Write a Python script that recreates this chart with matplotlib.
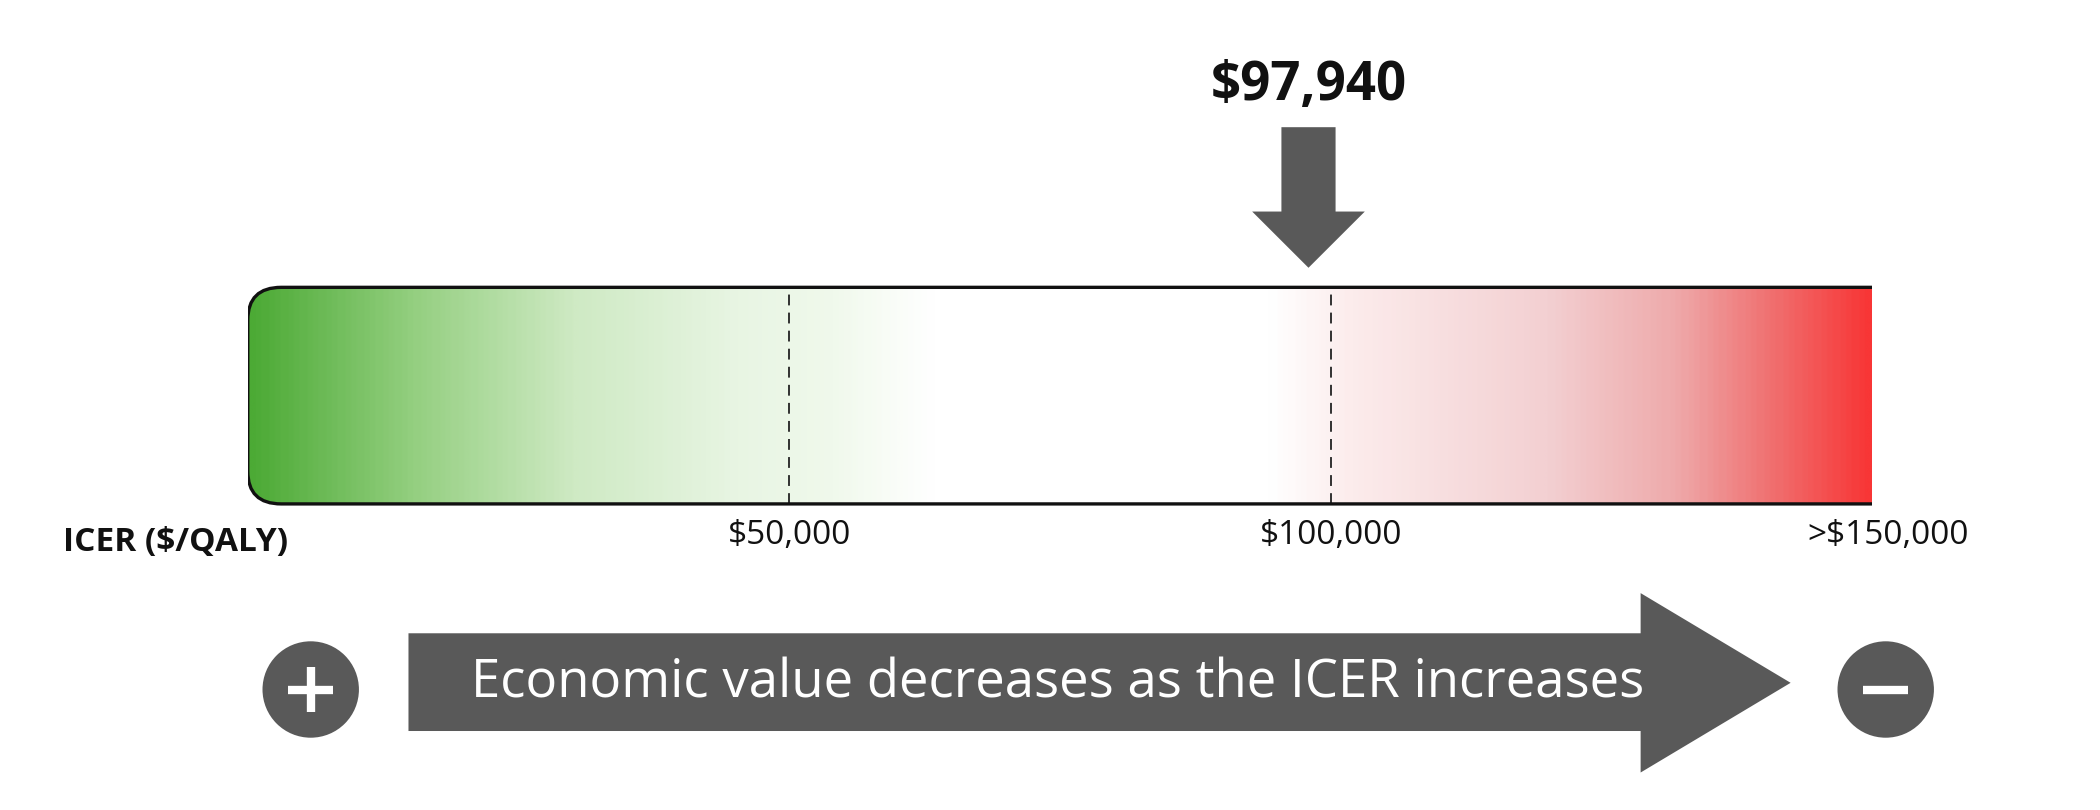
import matplotlib.pyplot as plt
import matplotlib.transforms as mtransforms
from matplotlib.colors import LinearSegmentedColormap
from matplotlib.patches import FancyBboxPatch, Polygon, Circle
import numpy as np

plt.rcParams['font.family'] = ['Open Sans', 'DejaVu Sans']

# data
icer_value = 97940
tick_values = [50000, 100000, 150000]
tick_labels = ["$50,000", "$100,000", ">$150,000"]
thresholds = [50000, 100000]
axis_label = "ICER ($/QALY)"
value_label = "$97,940"
arrow_text = "Economic value decreases as the ICER increases"
x_max = 150000

grey = "#595959"

fig = plt.figure(figsize=(21, 8.1), dpi=100)
# layout axes in reference pixel units (1568 x 605)
ax = fig.add_axes([0, 0, 1, 1])
ax.set_xlim(0, 1568)
ax.set_ylim(605, 0)
ax.axis("off")

# bar axes in ICER units
W, H = 1568, 605
bx0, bx1, by0, by1 = 185, 1398, 213, 378
axb = fig.add_axes([bx0 / W, 1 - by1 / H, (bx1 - bx0) / W, (by1 - by0) / H])
axb.set_xlim(0, x_max)
axb.set_ylim(-0.01, 1.01)
axb.axis("off")

cmap = LinearSegmentedColormap.from_list("icer", [
    (0.00, "#4caa35"), (0.10, "#94cf80"), (0.20, "#cfeac4"),
    (0.30, "#e8f5e3"), (0.36, "#f0f9ec"), (0.42, "#ffffff"),
    (0.63, "#ffffff"), (0.68, "#fcecec"), (0.80, "#f3d0d2"),
    (0.88, "#eeaaab"), (0.94, "#f07070"), (1.00, "#f83636")])
grad = np.linspace(0, 1, 600).reshape(1, -1)
img = axb.imshow(grad, cmap=cmap, aspect="auto", extent=[0, x_max, 0, 1], zorder=1)

rx = 25 / (bx1 - bx0) * x_max
ry = 25 / (by1 - by0)
shape = FancyBboxPatch((0, 0), x_max * 1.1, 1,
                       boxstyle=f"round,pad=0,rounding_size={rx}",
                       mutation_aspect=ry / rx, facecolor="none",
                       edgecolor="#111111", linewidth=2.4, zorder=3)
axb.add_patch(shape)
img.set_clip_path(shape)

for t in thresholds:
    axb.plot([t, t], [0, 1], color="#222222", lw=1.3, ls=(0, (6, 4)), zorder=2)

# labels under bar, x from ICER scale
tr = mtransforms.blended_transform_factory(axb.transData, ax.transData)
for v, lab in zip(tick_values, tick_labels):
    off = 1500 if v == x_max else 0
    ax.text(v + off, 400, lab, transform=tr, ha="center", va="center",
            fontsize=24, color="#111111")
ax.text(47, 405, axis_label, ha="left", va="center", fontsize=24,
        fontweight="bold", color="#111111")

# value arrow
sw, hw = 2500, 5200
ax.add_patch(Polygon([(icer_value - sw, 95), (icer_value + sw, 95),
                      (icer_value + sw, 158), (icer_value + hw, 158),
                      (icer_value, 200), (icer_value - hw, 158),
                      (icer_value - sw, 158)], closed=True,
                     facecolor=grey, edgecolor="none", transform=tr))
ax.text(icer_value, 64, value_label, transform=tr, ha="center", va="center",
        fontsize=38, fontweight="bold", color="#111111")

# big arrow
ax.add_patch(Polygon([(305, 473), (1225, 473), (1225, 443), (1337, 510),
                      (1225, 577), (1225, 546), (305, 546)], closed=True,
                     facecolor=grey, edgecolor="none"))
ax.text(790, 511, arrow_text, ha="center", va="center", fontsize=38,
        color="white")

# plus / minus circles
for cx, sym in [(232, "+"), (1408, "\u2212")]:
    ax.add_patch(Circle((cx, 515), 36, facecolor=grey, edgecolor="none"))
    ax.plot([cx - 17, cx + 17], [515, 515], color="white", lw=6,
            solid_capstyle="butt")
    if sym == "+":
        ax.plot([cx, cx], [498, 532], color="white", lw=6, solid_capstyle="butt")

fig.savefig("out.png", dpi=100, facecolor="white")
